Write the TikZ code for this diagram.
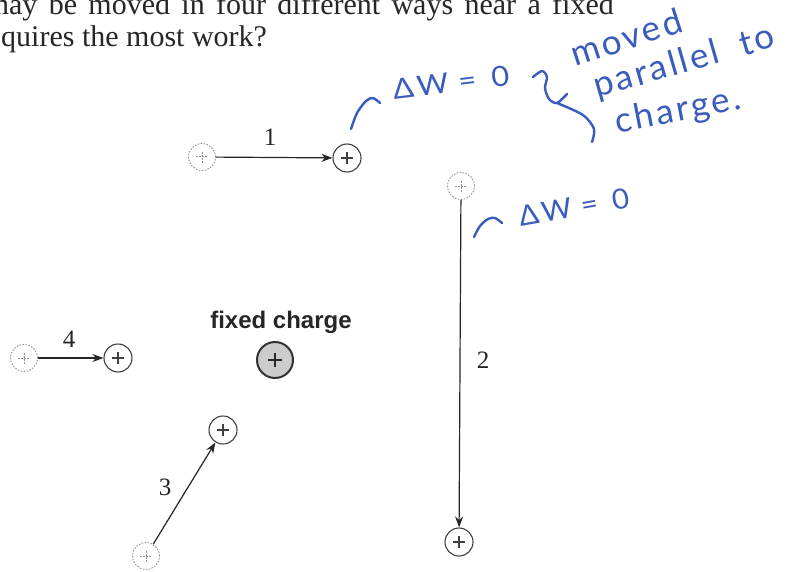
\documentclass[tikz,border=0pt]{standalone}
\usepackage{fontspec}
\setmainfont{Liberation Serif}
\newfontfamily\labelsans{Liberation Sans}
\newfontfamily\hand{Lato}
\newfontfamily\handwide{Lato}[LetterSpace=8]
\usetikzlibrary{arrows.meta}
\definecolor{inkblue}{RGB}{58,92,188}
\tikzset{
  plussign/.style={path picture={
    \draw[line width=#1]
      ([xshift=-6pt]path picture bounding box.center) -- ([xshift=6pt]path picture bounding box.center)
      ([yshift=-6pt]path picture bounding box.center) -- ([yshift=6pt]path picture bounding box.center);}},
  startq/.style={circle, draw=gray!70, dash pattern=on 1.6pt off 1.4pt, line width=0.9pt,
    minimum size=27pt, inner sep=0pt, plussign=1pt, color=gray!85},
  endq/.style={circle, draw=black!75, line width=1.1pt, minimum size=28pt, inner sep=0pt, plussign=1.3pt},
  fixedq/.style={circle, draw=black!80, fill=gray!40, line width=2pt, minimum size=36pt, inner sep=0pt,
    path picture={\draw[line width=2.4pt, black!85]
      ([xshift=-7pt]path picture bounding box.center) -- ([xshift=7pt]path picture bounding box.center)
      ([yshift=-7pt]path picture bounding box.center) -- ([yshift=7pt]path picture bounding box.center);}},
  move/.style={-{Stealth[length=11pt,width=8pt]}, line width=1.2pt, black!85},
  numlbl/.style={font=\fontsize{25}{25}\selectfont, inner sep=0pt, text=black!85},
  toptext/.style={font=\fontsize{30}{30}\selectfont, inner sep=0pt, text=black!85},
  hw/.style={text=inkblue, font=\hand\fontsize{28}{28}\selectfont, inner sep=0pt},
  hwbig/.style={text=inkblue, font=\handwide\fontsize{35}{35}\selectfont, inner sep=0pt},
  hwline/.style={draw=inkblue, line width=2.4pt, line cap=round, line join=round}
}
\begin{document}
\begin{tikzpicture}[x=1pt,y=-1pt]
\useasboundingbox[fill=white] (0,0) rectangle (786,572);

% question text
\node[toptext, anchor=base east] (q1) at (614,15) {\makebox[628pt][s]{may be moved in four different ways near a fixed}};
\node[toptext, anchor=base west] (q2) at (1,47) {quires the most work?};

% fixed charge
\node[fixedq] (fix) at (275,360) {};
\node[font=\labelsans\bfseries\fontsize{24}{24}\selectfont, inner sep=0pt, text=black!85] (fixlbl) at (281,322) {fixed charge};

% path 1
\node[startq] (s1) at (202,157) {};
\node[endq] (e1) at (347,158) {};
\draw[move] (s1) -- (e1);
\node[numlbl] (n1) at (270,137) {1};

% path 2
\node[startq] (s2) at (461,186) {};
\node[endq] (e2) at (459,542) {};
\draw[move] (s2) -- (e2);
\node[numlbl] (n2) at (483,360) {2};

% path 3
\node[startq] (s3) at (146,556) {};
\node[endq] (e3) at (223,430) {};
\draw[move] (s3) -- (e3);
\node[numlbl] (n3) at (165,487) {3};

% path 4
\node[startq] (s4) at (24,358) {};
\node[endq] (e4) at (118,358) {};
\draw[move] (s4) -- (e4);
\node[numlbl] (n4) at (69,339) {4};

% handwriting
\draw[hwline] plot[smooth] coordinates {(351,129) (357,113) (366,101) (373,98) (380,103)};
\node[hw, rotate=7, xscale=1.1] (hw1) at (451,82) {Δ\kern3pt W\kern9pt=\kern14pt0};
\draw[hwline] plot[smooth] coordinates {(533,77) (542,71) (547,77) (545,88) (549,99) (557,103) (567,94)};
\draw[hwline] plot[smooth] coordinates {(557,103) (583,115) (594,129) (592,142)};
\node[hwbig, rotate=18] (hw2) at (626,37) {moved};
\node[hwbig, rotate=16, anchor=base west] (hw3) at (597,98) {parallel\kern22pt to};
\node[hwbig, rotate=11] (hw4) at (678,112) {charge.};
\draw[hwline] plot[smooth] coordinates {(474,237) (480,226) (488,219) (495,218) (502,223)};
\node[hw, rotate=10, xscale=1.05] (hw5) at (574,207) {Δ\kern3pt W\kern9pt=\kern14pt0};
\end{tikzpicture}
\end{document}
